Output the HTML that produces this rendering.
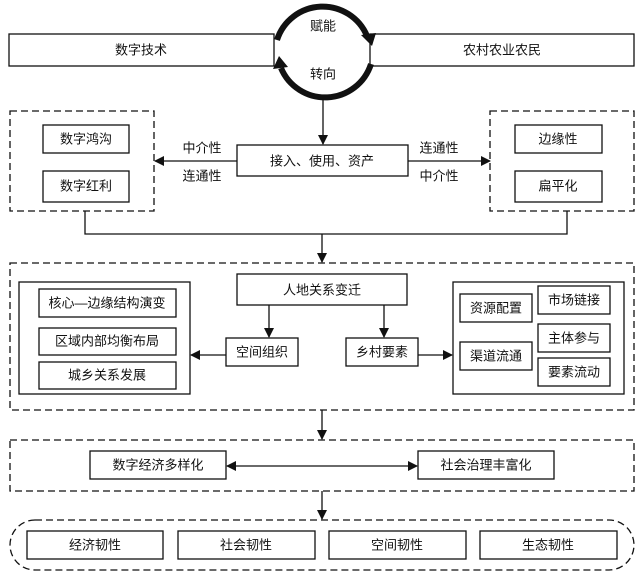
<!DOCTYPE html>
<html><head><meta charset="utf-8"><style>
html,body{margin:0;padding:0;background:#fff;}
svg{display:block;}
text{font-family:"Liberation Sans","Noto Sans CJK SC",sans-serif;font-size:13px;fill:#111;text-anchor:middle;dominant-baseline:central;}
.b{fill:#fff;stroke:#111;stroke-width:1.3;}
.d{fill:none;stroke:#111;stroke-width:1.3;stroke-dasharray:7,4;}
.l{stroke:#111;stroke-width:1.3;fill:none;}
</style></head><body>
<svg width="644" height="578" viewBox="0 0 644 578" xmlns="http://www.w3.org/2000/svg">
<defs>
<marker id="a" markerWidth="10" markerHeight="10" refX="9" refY="5" orient="auto" markerUnits="userSpaceOnUse"><path d="M0,0 L10,5 L0,10 z" fill="#111"/></marker>
<marker id="as" markerWidth="10" markerHeight="10" refX="1" refY="5" orient="auto" markerUnits="userSpaceOnUse"><path d="M10,0 L0,5 L10,10 z" fill="#111"/></marker>
</defs>
<!-- top -->
<rect class="b" x="9" y="34" width="265" height="32"/><text x="141" y="50">数字技术</text>
<rect class="b" x="370" y="34" width="264" height="32"/><text x="502" y="50">农村农业农民</text>
<path d="M277,40 A48,48 0 0 1 367,36" stroke="#111" stroke-width="6" fill="none"/>
<path d="M361,35 L376,33 L372,46 z" fill="#111"/>
<path d="M371,64 A48,48 0 0 1 281,68" stroke="#111" stroke-width="6" fill="none"/>
<path d="M273,69 L279,56 L288,67 z" fill="#111"/>
<text x="323" y="26">赋能</text><text x="323" y="74">转向</text>
<line class="l" x1="323" y1="99" x2="323" y2="144" marker-end="url(#a)"/>
<rect class="b" x="237" y="145" width="171" height="31"/><text x="322" y="161">接入、使用、资产</text>
<line class="l" x1="237" y1="161" x2="155" y2="161" marker-end="url(#a)"/>
<line class="l" x1="408" y1="161" x2="490" y2="161" marker-end="url(#a)"/>
<text x="202" y="148">中介性</text><text x="202" y="176">连通性</text>
<text x="439" y="148">连通性</text><text x="439" y="176">中介性</text>
<rect class="d" x="10" y="111" width="144" height="100"/>
<rect class="b" x="43" y="125" width="86" height="28"/><text x="86" y="139">数字鸿沟</text>
<rect class="b" x="43" y="171" width="86" height="31"/><text x="86" y="186">数字红利</text>
<rect class="d" x="490" y="111" width="144" height="100"/>
<rect class="b" x="515" y="125" width="87" height="28"/><text x="558" y="139">边缘性</text>
<rect class="b" x="515" y="171" width="87" height="31"/><text x="558" y="186">扁平化</text>
<path class="l" d="M85,211 V234 H567 V211"/>
<line class="l" x1="322" y1="234" x2="322" y2="262" marker-end="url(#a)"/>
<!-- middle -->
<rect class="d" x="10" y="263" width="624" height="147"/>
<rect class="b" x="237" y="274" width="170" height="31"/><text x="322" y="290">人地关系变迁</text>
<rect class="b" x="19" y="282" width="171" height="112"/>
<rect class="b" x="39" y="289" width="137" height="28"/><text x="107" y="303">核心—边缘结构演变</text>
<rect class="b" x="39" y="328" width="137" height="27"/><text x="107" y="341">区域内部均衡布局</text>
<rect class="b" x="39" y="362" width="137" height="27"/><text x="107" y="375">城乡关系发展</text>
<rect class="b" x="226" y="338" width="72" height="28"/><text x="262" y="352">空间组织</text>
<rect class="b" x="346" y="338" width="72" height="28"/><text x="382" y="352">乡村要素</text>
<line class="l" x1="269" y1="305" x2="269" y2="337" marker-end="url(#a)"/>
<line class="l" x1="384" y1="305" x2="384" y2="337" marker-end="url(#a)"/>
<line class="l" x1="226" y1="355" x2="191" y2="355" marker-end="url(#a)"/>
<line class="l" x1="418" y1="355" x2="452" y2="355" marker-end="url(#a)"/>
<rect class="b" x="453" y="282" width="171" height="112"/>
<rect class="b" x="460" y="294" width="72" height="28"/><text x="496" y="308">资源配置</text>
<rect class="b" x="460" y="342" width="72" height="28"/><text x="496" y="356">渠道流通</text>
<rect class="b" x="538" y="286" width="72" height="28"/><text x="574" y="300">市场链接</text>
<rect class="b" x="538" y="324" width="72" height="28"/><text x="574" y="338">主体参与</text>
<rect class="b" x="538" y="358" width="72" height="28"/><text x="574" y="372">要素流动</text>
<line class="l" x1="322" y1="410" x2="322" y2="439" marker-end="url(#a)"/>
<!-- third -->
<rect class="d" x="10" y="440" width="624" height="51"/>
<rect class="b" x="90" y="451" width="136" height="28"/><text x="158" y="465">数字经济多样化</text>
<rect class="b" x="418" y="451" width="136" height="28"/><text x="486" y="465">社会治理丰富化</text>
<line class="l" x1="227" y1="466" x2="417" y2="466" marker-start="url(#as)" marker-end="url(#a)"/>
<line class="l" x1="322" y1="491" x2="322" y2="519" marker-end="url(#a)"/>
<!-- bottom -->
<rect class="d" x="10" y="520" width="624" height="50" rx="25" ry="25"/>
<rect class="b" x="27" y="531" width="136" height="28"/><text x="95" y="545">经济韧性</text>
<rect class="b" x="178" y="531" width="137" height="28"/><text x="246" y="545">社会韧性</text>
<rect class="b" x="329" y="531" width="137" height="28"/><text x="397" y="545">空间韧性</text>
<rect class="b" x="480" y="531" width="137" height="28"/><text x="548" y="545">生态韧性</text>
</svg>
</body></html>
